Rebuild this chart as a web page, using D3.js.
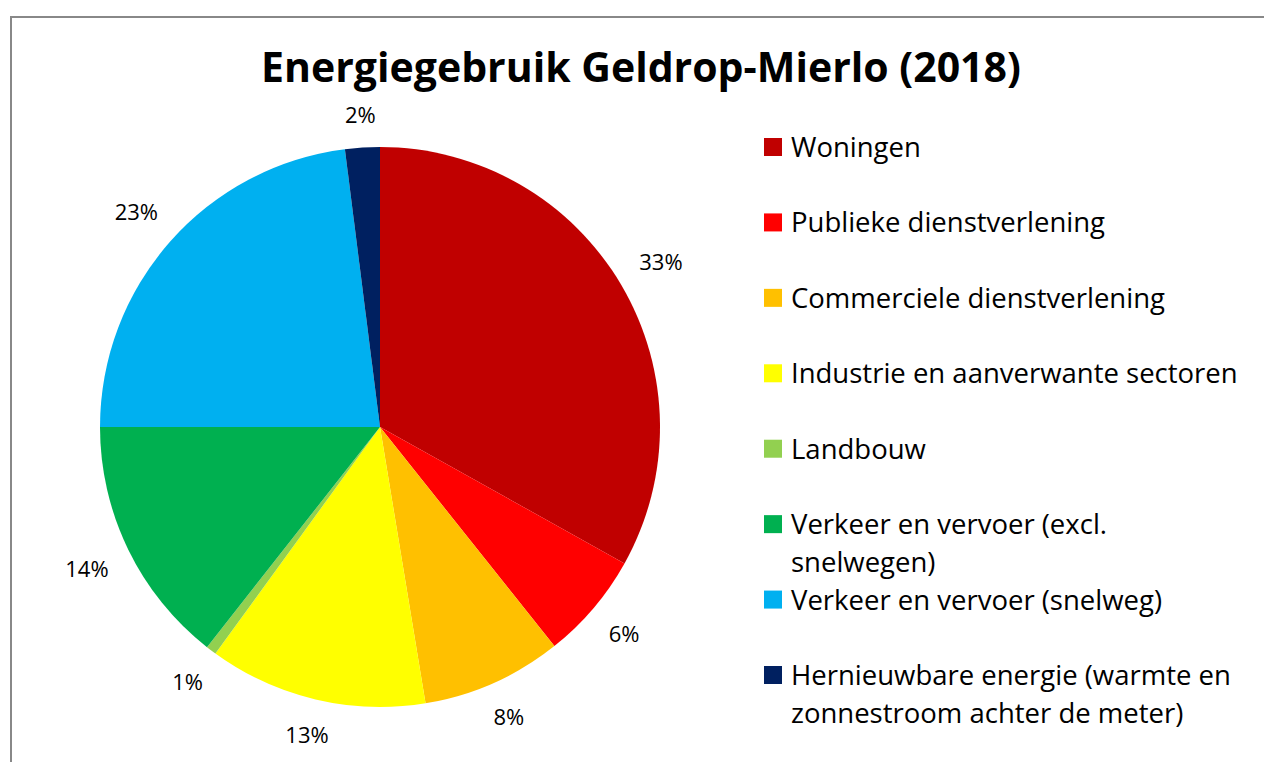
<!DOCTYPE html>
<html>
<head>
<meta charset="utf-8">
<script src="https://cdn.jsdelivr.net/npm/d3@7"></script>
<style>
	body { margin: 0; background: #fff; }
	svg { display: block; }
	text { font-family: "Open Sans", Lato, sans-serif; fill: #000; }
</style>
</head>
<body>
<svg id="chart" width="1264" height="762"></svg>
<script>
// data (share of total energy use, %)
var categories = ['Woningen', 'Publieke dienstverlening', 'Commerciele dienstverlening',
	'Industrie en aanverwante sectoren', 'Landbouw', 'Verkeer en vervoer (excl. snelwegen)',
	'Verkeer en vervoer (snelweg)', 'Hernieuwbare energie (warmte en zonnestroom achter de meter)'];
var values = [33.1, 6.2, 8.1, 12.6, 0.6, 14.4, 23.0, 2.0];
var labels = ['33%', '6%', '8%', '13%', '1%', '14%', '23%', '2%'];
// legend text as it wraps in the original
var legendLines = [
	['Woningen'],
	['Publieke dienstverlening'],
	['Commerciele dienstverlening'],
	['Industrie en aanverwante sectoren'],
	['Landbouw'],
	['Verkeer en vervoer (excl.', 'snelwegen)'],
	['Verkeer en vervoer (snelweg)'],
	['Hernieuwbare energie (warmte en', 'zonnestroom achter de meter)']
];
var colors = ['#C00000', '#FF0000', '#FFC000', '#FFFF00', '#92D050', '#00B050', '#00B0F0', '#002060'];

var svg = d3.select('#chart');

// chart frame (only top and left edge visible)
svg.append('line').attr('x1', 11).attr('y1', 17).attr('x2', 1264).attr('y2', 17)
	.style('stroke', '#888').style('stroke-width', 2);
svg.append('line').attr('x1', 11).attr('y1', 16).attr('x2', 11).attr('y2', 762)
	.style('stroke', '#888').style('stroke-width', 2);

svg.append('text')
	.attr('x', 641)
	.attr('y', 82)
	.style('text-anchor', 'middle')
	.style('font-size', '41px')
	.style('font-weight', 'bold')
	.text('Energiegebruik Geldrop-Mierlo (2018)');

var cx = 380, cy = 427, radius = 280;
var color = d3.scaleOrdinal().domain(categories).range(colors);

var pie = d3.pie().sort(null).value(function(d) { return d.v; });
var arcs = pie(categories.map(function(c, i) { return {name: c, v: values[i], label: labels[i]}; }));

var arc = d3.arc().innerRadius(0).outerRadius(radius);

var g = svg.append('g').attr('transform', 'translate(' + cx + ',' + cy + ')');

g.selectAll('path.slice')
	.data(arcs)
	.enter().append('path')
	.attr('class', 'slice')
	.attr('d', arc)
	.style('fill', function(d) { return color(d.data.name); });

// labels sit outside the rim; the label box keeps a fixed gap to the pie
var labelGap = 22, halfH = 10;
g.selectAll('text.pct')
	.data(arcs)
	.enter().append('text')
	.attr('class', 'pct')
	.style('text-anchor', 'middle')
	.style('font-size', '22px')
	.text(function(d) { return d.data.label; })
	.each(function(d) {
		var w = this.getComputedTextLength();
		var a = (d.startAngle + d.endAngle) / 2;
		var ux = Math.sin(a), uy = -Math.cos(a);
		var dist = radius + labelGap + Math.abs(ux) * w / 2 + Math.abs(uy) * halfH;
		d3.select(this)
			.attr('x', ux * dist)
			.attr('y', uy * dist + 8);
	});

// legend
var rowY = d3.scaleLinear().domain([0, categories.length - 1]).range([147, 675]);
var legend = svg.append('g');
categories.forEach(function(c, i) {
	var y = rowY(i);
	legend.append('rect')
		.attr('x', 764)
		.attr('y', y - 9)
		.attr('width', 18)
		.attr('height', 18)
		.style('fill', color(c));
	legendLines[i].forEach(function(line, j) {
		legend.append('text')
			.attr('x', 791)
			.attr('y', y + 10 + j * 38)
			.style('font-size', '27.5px')
			.text(line);
	});
});
</script>
</body>
</html>
